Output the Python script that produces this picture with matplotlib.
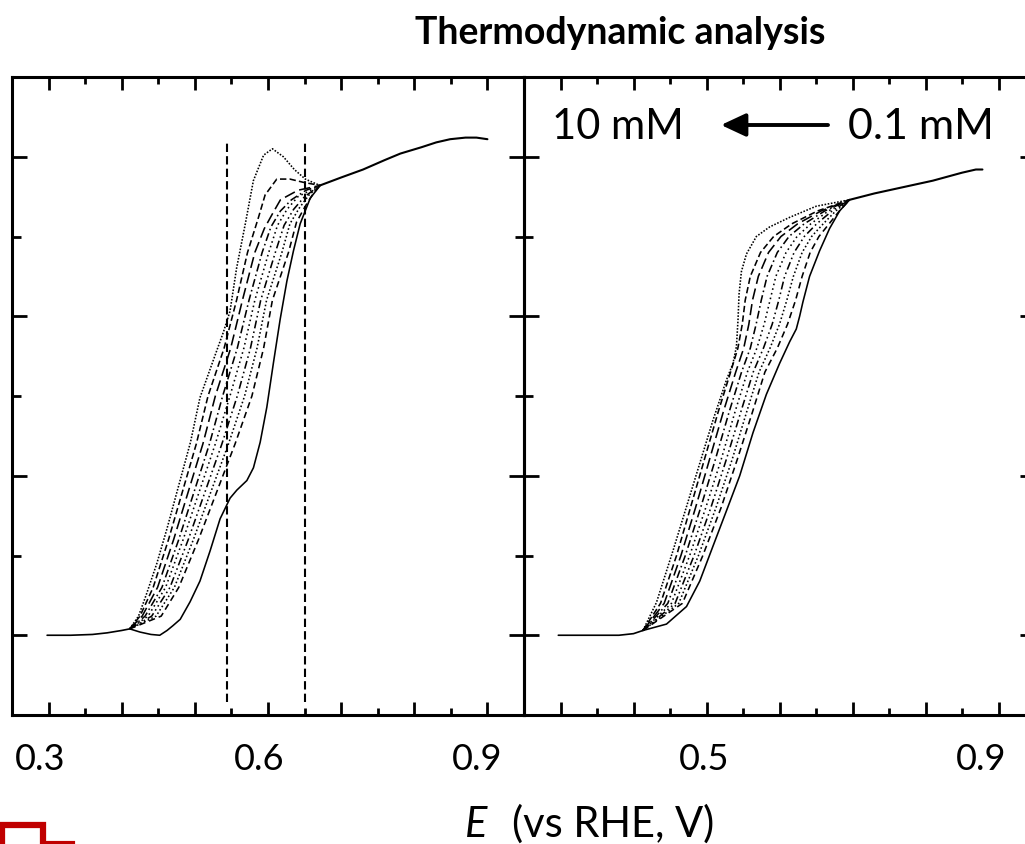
import matplotlib
matplotlib.use("Agg")
import matplotlib.pyplot as plt
import matplotlib.transforms as mtransforms
from matplotlib.patches import Rectangle, FancyArrowPatch
from matplotlib.lines import Line2D

plt.rcParams['font.family'] = ['Lato', 'DejaVu Sans']

# ---------------- data (x: E vs RHE in V, y: current, arbitrary units) ----------------
TITLE = "Thermodynamic analysis"
XLABEL_ITALIC = "E"
XLABEL_REST = "(vs RHE, V)"
CONC_HIGH = "10 mM"
CONC_LOW = "0.1 mM"

LEFT_LABEL_VALUES = [0.3, 0.6, 0.9]
RIGHT_LABEL_VALUES = [0.5, 0.9]
MAJOR_X = [0.3, 0.4, 0.5, 0.6, 0.7, 0.8, 0.9]
MINOR_X = [0.35, 0.45, 0.55, 0.65, 0.75, 0.85]
MAJOR_Y = [0, 1, 2, 3]
MINOR_Y = [0.5, 1.5, 2.5]
LEFT_VLINES = [0.544, 0.651]

# left panel: shared baseline and shared top branch
left_base_x = [0.298, 0.33, 0.36, 0.38, 0.40, 0.411]
left_base_y = [0.0, 0.0, 0.005, 0.015, 0.03, 0.04]
left_top_x = [0.671, 0.70, 0.73, 0.76, 0.781, 0.81, 0.83, 0.849, 0.87, 0.885, 0.90]
left_top_y = [2.82, 2.87, 2.92, 2.98, 3.02, 3.06, 3.09, 3.11, 3.12, 3.12, 3.11]

# left panel, 10 mM (leftmost) ... 0.1 mM (rightmost, solid)
left_x = [
    [0.411, 0.423, 0.434, 0.448, 0.462, 0.478, 0.494, 0.507, 0.528, 0.539, 0.548, 0.557, 0.569, 0.580, 0.594, 0.606, 0.621, 0.636, 0.651, 0.671],
    [0.411, 0.425, 0.443, 0.464, 0.483, 0.502, 0.518, 0.540, 0.557, 0.572, 0.587, 0.596, 0.612, 0.630, 0.648, 0.671],
    [0.411, 0.428, 0.449, 0.471, 0.491, 0.511, 0.528, 0.549, 0.565, 0.582, 0.595, 0.607, 0.617, 0.641, 0.671],
    [0.411, 0.432, 0.455, 0.478, 0.499, 0.520, 0.538, 0.558, 0.574, 0.592, 0.604, 0.617, 0.632, 0.652, 0.671],
    [0.411, 0.436, 0.460, 0.484, 0.506, 0.528, 0.548, 0.567, 0.582, 0.601, 0.613, 0.626, 0.641, 0.671],
    [0.411, 0.441, 0.466, 0.491, 0.514, 0.537, 0.558, 0.576, 0.590, 0.610, 0.622, 0.635, 0.650, 0.671],
    [0.411, 0.447, 0.472, 0.498, 0.522, 0.546, 0.568, 0.585, 0.598, 0.619, 0.630, 0.643, 0.656, 0.671],
    [0.411, 0.454, 0.478, 0.505, 0.530, 0.555, 0.578, 0.594, 0.606, 0.628, 0.639, 0.651, 0.662, 0.671],
    [0.411, 0.425, 0.440, 0.452, 0.462, 0.470, 0.480, 0.4935, 0.507, 0.5209, 0.5345, 0.5482, 0.5574, 0.5711, 0.5801, 0.5893, 0.5984, 0.6075, 0.6166, 0.6258, 0.6348, 0.644, 0.6577, 0.6713],
]
left_y = [
    [0.04, 0.12, 0.26, 0.45, 0.67, 0.94, 1.21, 1.49, 1.76, 1.90, 2.03, 2.30, 2.58, 2.85, 3.01, 3.05, 3.00, 2.92, 2.86, 2.82],
    [0.04, 0.12, 0.30, 0.60, 0.90, 1.20, 1.50, 1.80, 2.10, 2.40, 2.62, 2.76, 2.86, 2.86, 2.84, 2.82],
    [0.04, 0.12, 0.30, 0.60, 0.90, 1.20, 1.50, 1.80, 2.10, 2.40, 2.55, 2.65, 2.73, 2.79, 2.82],
    [0.04, 0.12, 0.30, 0.60, 0.90, 1.20, 1.50, 1.80, 2.10, 2.40, 2.56, 2.66, 2.73, 2.79, 2.82],
    [0.04, 0.12, 0.30, 0.60, 0.90, 1.20, 1.50, 1.80, 2.10, 2.40, 2.57, 2.67, 2.75, 2.82],
    [0.04, 0.12, 0.30, 0.60, 0.90, 1.20, 1.50, 1.80, 2.10, 2.40, 2.57, 2.67, 2.75, 2.82],
    [0.04, 0.12, 0.30, 0.60, 0.90, 1.20, 1.50, 1.80, 2.10, 2.40, 2.58, 2.68, 2.76, 2.82],
    [0.04, 0.12, 0.30, 0.60, 0.90, 1.20, 1.50, 1.80, 2.10, 2.40, 2.59, 2.69, 2.77, 2.82],
    [0.04, 0.02, 0.005, 0.0, 0.03, 0.06, 0.10, 0.21, 0.34, 0.53, 0.73, 0.86, 0.91, 0.97, 1.05, 1.21, 1.43, 1.71, 1.98, 2.22, 2.41, 2.58, 2.74, 2.82],
]

# right panel
right_base_x = [0.297, 0.33, 0.36, 0.38, 0.40, 0.413]
right_base_y = [0.0, 0.0, 0.0, 0.0, 0.01, 0.03]
right_top_x = [0.696, 0.73, 0.77, 0.81, 0.85, 0.869, 0.878]
right_top_y = [2.73, 2.77, 2.81, 2.85, 2.90, 2.92, 2.92]

right_x = [
    [0.413, 0.4315, 0.4543, 0.4726, 0.4908, 0.509, 0.5273, 0.5363, 0.541, 0.5432, 0.5446, 0.5478, 0.5547, 0.5683, 0.5865, 0.6139, 0.6504, 0.696],
    [0.413, 0.437, 0.459, 0.478, 0.497, 0.516, 0.533, 0.543, 0.549, 0.553, 0.560, 0.574, 0.592, 0.617, 0.652, 0.696],
    [0.413, 0.442, 0.465, 0.485, 0.504, 0.523, 0.540, 0.551, 0.558, 0.563, 0.571, 0.585, 0.602, 0.625, 0.657, 0.696],
    [0.413, 0.447, 0.471, 0.492, 0.512, 0.531, 0.548, 0.560, 0.568, 0.575, 0.583, 0.597, 0.613, 0.634, 0.662, 0.696],
    [0.413, 0.452, 0.477, 0.499, 0.520, 0.539, 0.556, 0.569, 0.579, 0.587, 0.595, 0.609, 0.624, 0.643, 0.667, 0.696],
    [0.413, 0.457, 0.483, 0.506, 0.527, 0.547, 0.564, 0.578, 0.590, 0.599, 0.607, 0.620, 0.634, 0.651, 0.672, 0.696],
    [0.413, 0.462, 0.489, 0.513, 0.535, 0.555, 0.572, 0.587, 0.600, 0.610, 0.619, 0.631, 0.644, 0.660, 0.677, 0.696],
    [0.413, 0.467, 0.495, 0.520, 0.542, 0.563, 0.580, 0.597, 0.611, 0.622, 0.631, 0.642, 0.654, 0.668, 0.682, 0.696],
    [0.413, 0.4452, 0.4726, 0.4908, 0.509, 0.5273, 0.5455, 0.5637, 0.582, 0.6002, 0.6139, 0.623, 0.6276, 0.6321, 0.6412, 0.6549, 0.6686, 0.6823, 0.696],
]
right_y = [
    [0.03, 0.206, 0.533, 0.806, 1.078, 1.35, 1.60, 1.705, 1.81, 1.98, 2.14, 2.28, 2.39, 2.50, 2.56, 2.62, 2.69, 2.73],
    [0.03, 0.20, 0.50, 0.80, 1.10, 1.40, 1.65, 1.80, 1.95, 2.10, 2.25, 2.40, 2.50, 2.58, 2.66, 2.73],
    [0.03, 0.20, 0.50, 0.80, 1.10, 1.40, 1.65, 1.80, 1.95, 2.10, 2.25, 2.40, 2.50, 2.58, 2.66, 2.73],
    [0.03, 0.20, 0.50, 0.80, 1.10, 1.40, 1.65, 1.80, 1.95, 2.10, 2.25, 2.40, 2.50, 2.58, 2.66, 2.73],
    [0.03, 0.20, 0.50, 0.80, 1.10, 1.40, 1.65, 1.80, 1.95, 2.10, 2.25, 2.40, 2.50, 2.58, 2.66, 2.73],
    [0.03, 0.20, 0.50, 0.80, 1.10, 1.40, 1.65, 1.80, 1.95, 2.10, 2.25, 2.40, 2.50, 2.58, 2.66, 2.73],
    [0.03, 0.20, 0.50, 0.80, 1.10, 1.40, 1.65, 1.80, 1.95, 2.10, 2.25, 2.40, 2.50, 2.58, 2.66, 2.73],
    [0.03, 0.20, 0.50, 0.80, 1.10, 1.40, 1.65, 1.80, 1.95, 2.10, 2.25, 2.40, 2.50, 2.58, 2.66, 2.73],
    [0.03, 0.07, 0.18, 0.34, 0.56, 0.78, 1.00, 1.27, 1.51, 1.705, 1.84, 1.92, 2.00, 2.09, 2.25, 2.41, 2.55, 2.66, 2.73],
]

LINE_STYLES = [(0, (1, 1)), (0, (4, 2)), (0, (7, 3)), (0, (5, 2, 1, 2)), (0, (1, 2)),
               (0, (5, 2, 1, 2, 1, 2)), (0, (1, 1.5)), (0, (4, 2.5)), '-']

# ---------------- layout ----------------
W, H = 1025, 844
fig = plt.figure(figsize=(W / 100, H / 100), dpi=100)

def fx(px):
    return px / W

def fy(py):
    return 1 - py / H

TOP, BOT = 77, 715
ax_l = fig.add_axes([fx(12), fy(BOT), fx(524 - 12), (BOT - TOP) / H])
ax_r = fig.add_axes([fx(524), fy(BOT), fx(1035 - 524), (BOT - TOP) / H])

for ax, bx, by, tx, ty, xs, ys in [
    (ax_l, left_base_x, left_base_y, left_top_x, left_top_y, left_x, left_y),
    (ax_r, right_base_x, right_base_y, right_top_x, right_top_y, right_x, right_y),
]:
    ax.plot(bx, by, color='black', lw=1.2, solid_capstyle='round')
    ax.plot(tx, ty, color='black', lw=1.5, solid_capstyle='round')
    for cx, cy, ls in zip(xs, ys, LINE_STYLES):
        ax.plot(cx, cy, color='black', lw=1.15, linestyle=ls)
    ax.set_xlim(0.25, 0.95)
    ax.set_ylim(-0.5, 3.5)
    ax.set_xticks(MAJOR_X)
    ax.set_xticks(MINOR_X, minor=True)
    ax.set_yticks(MAJOR_Y)
    ax.set_yticks(MINOR_Y, minor=True)
    ax.tick_params(axis='both', which='both', direction='in', top=True, bottom=True,
                   left=True, right=True, labelbottom=False, labelleft=False,
                   width=2.0, color='black')
    ax.tick_params(axis='x', which='major', length=9.5)
    ax.tick_params(axis='x', which='minor', length=5)
    ax.tick_params(axis='y', which='major', length=11)
    ax.tick_params(axis='y', which='minor', length=6.5)
    for sp in ax.spines.values():
        sp.set_linewidth(2.2)
        sp.set_color('black')
    ax.patch.set_alpha(0)

for xv in LEFT_VLINES:
    ax_l.plot([xv, xv], [-0.42, 3.10], color='black', lw=1.5, linestyle=(0, (4, 2)))

# tick labels (placed as in the reference, slightly left of the ticks)
lab_kw = dict(fontsize=26, ha='center', va='baseline', color='black')
for ax, vals, offs in [(ax_l, LEFT_LABEL_VALUES, [-8, -9, -10]),
                       (ax_r, RIGHT_LABEL_VALUES, [-2, -17])]:
    for v, o in zip(vals, offs):
        tr = ax.get_xaxis_transform() + mtransforms.ScaledTranslation(o / 100, 0, fig.dpi_scale_trans)
        ax.text(v, (BOT - 770) / (BOT - TOP), f"{v:.1f}", transform=tr, **lab_kw)

# axis label
fig.text(fx(465), fy(837), XLABEL_ITALIC, fontsize=30, style='italic', ha='left', va='baseline')
fig.text(fx(512), fy(837), XLABEL_REST, fontsize=30, ha='left', va='baseline')

# title
fig.text(fx(620), fy(44), TITLE, fontsize=27, fontweight='bold', ha='center', va='baseline')

# concentration annotation
fig.text(fx(552), fy(139), CONC_HIGH, fontsize=30, ha='left', va='baseline')
fig.text(fx(848), fy(139), CONC_LOW, fontsize=31, ha='left', va='baseline')
fig.patches.append(FancyArrowPatch(
    (fx(828), fy(125)), (fx(721), fy(125)), transform=fig.transFigure,
    arrowstyle='-|>,head_length=0.75,head_width=0.35', mutation_scale=20,
    lw=2.8, color='black', shrinkA=0, shrinkB=0))

# red box remnant at the lower-left corner
fig.patches.append(Rectangle((fx(2), fy(850)), fx(41), (850 - 825) / H, transform=fig.transFigure,
                             fill=False, edgecolor='#C00000', lw=4.5))
fig.lines.append(Line2D([fx(45), fx(73)], [fy(843), fy(843)], transform=fig.transFigure,
                        color='#C00000', lw=3))

fig.savefig("out.png", dpi=100)
